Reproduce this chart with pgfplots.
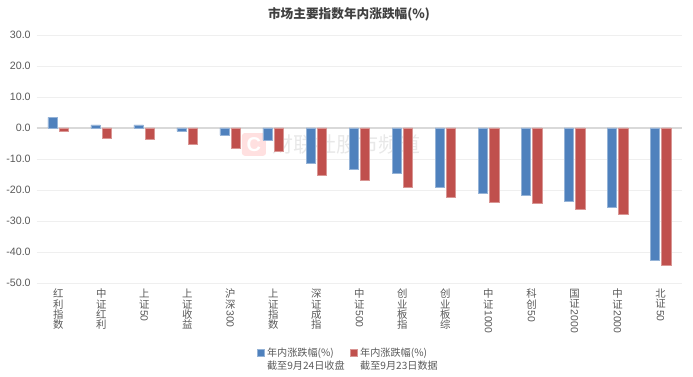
\documentclass[border=0pt]{standalone}
\usepackage{pgfplots}
\pgfplotsset{compat=1.18}
\usepackage{fontspec}
\setmainfont{Noto Sans CJK SC}
\newfontfamily\numfont{Liberation Sans}
\definecolor{cblue}{HTML}{4F81BD}
\definecolor{cred}{HTML}{C0504D}
\definecolor{ctext}{HTML}{595959}
\definecolor{cgrid}{HTML}{EFEFEF}
\newcommand{\rn}[1]{\raisebox{6.2pt}{\rotatebox{-90}{\numfont #1}}}
\begin{document}
\begin{tikzpicture}[x=0.75pt,y=0.75pt]
\useasboundingbox (-36.7,-94) rectangle (656.3,283);
\begin{axis}[
  scale only axis,
  width=484pt, height=186pt,
  at={(0,0)}, anchor=south west,
  xmin=-0.5, xmax=14.5, ymin=-50, ymax=30,
  ytick={-50,-40,-30,-20,-10,0,10,20,30},
  xtick={0,...,14},
  xticklabels={
    {红\\利\\指\\数},{中\\证\\红\\利},{上\\证\\\rn{50}},{上\\证\\收\\益},{沪\\深\\\rn{300}},
    {上\\证\\指\\数},{深\\证\\成\\指},{中\\证\\\rn{500}},{创\\业\\板\\指},{创\\业\\板\\综},
    {中\\证\\\rn{1000}},{科\\创\\\rn{50}},{国\\证\\\rn{2000}},{中\\证\\\rn{2000}},{北\\证\\\rn{50}}},
  xticklabel style={align=center, anchor=north, font=\fontsize{7.8}{7.8}\selectfont, text=ctext, yshift=-1pt},
  yticklabel style={/pgf/number format/fixed,/pgf/number format/zerofill,/pgf/number format/precision=1,
    /pgf/number format/assume math mode=true,
    font=\fontsize{8}{10}\selectfont\numfont, text=ctext, xshift=-1pt},
  major tick length=0pt,
  axis line style={draw=none},
  ymajorgrids=true,
  grid style={cgrid,line width=0.7pt},
  extra y ticks={0},
  extra y tick labels={},
  extra y tick style={grid style={draw=black!15,line width=0.8pt}},
  ybar=1.5pt,
  bar width=7pt,
  title={\bfseries 市场主要指数年内涨跌幅(\%)},
  title style={at={(0.484,1)},anchor=south,font=\fontsize{9.5}{10}\selectfont,text=black!75,yshift=1pt},
  legend style={at={(0.5,0)},anchor=north,yshift=-46.5pt,xshift=-8pt,draw=none,fill=none,
    font=\fontsize{7.6}{9.6}\selectfont,text=ctext,
    legend columns=2,inner sep=0pt,
    /tikz/every even column/.append style={column sep=2pt},
    cells={align=left}},
  legend cell align=left,
  legend image code/.code={\fill[#1] (0.8pt,2.5pt) rectangle (6pt,7.7pt);},
  clip=false,
]
\node[text=black!9,font=\fontsize{15.8}{16}\selectfont,anchor=west] at (axis cs:4.88,-5.3) {财联社股市频道};
\node[fill=red!12,rounded corners=2pt,minimum width=18pt,minimum height=17pt,inner sep=0pt,
      text=white,font=\fontsize{15}{15}\selectfont\bfseries\numfont] at (axis cs:4.55,-5.3) {C};
\addplot[fill=cblue,draw=cblue!60!white,line width=0.4pt] coordinates {
 (0,3.4)(1,1.0)(2,1.0)(3,-1.1)(4,-2.3)(5,-3.9)(6,-11.4)(7,-13.4)(8,-14.5)(9,-19.0)(10,-21.1)(11,-21.7)(12,-23.5)(13,-25.6)(14,-42.6)};
\addplot[fill=cred,draw=cred!60!white,line width=0.4pt] coordinates {
 (0,-0.9)(1,-3.3)(2,-3.6)(3,-5.1)(4,-6.5)(5,-7.6)(6,-15.2)(7,-17.0)(8,-19.0)(9,-22.5)(10,-24.0)(11,-24.4)(12,-26.3)(13,-27.8)(14,-44.3)};
\legend{年内涨跌幅(\%)\\截至9月24日收盘,年内涨跌幅(\%)\\截至9月23日数据}
\end{axis}
\end{tikzpicture}
\end{document}
